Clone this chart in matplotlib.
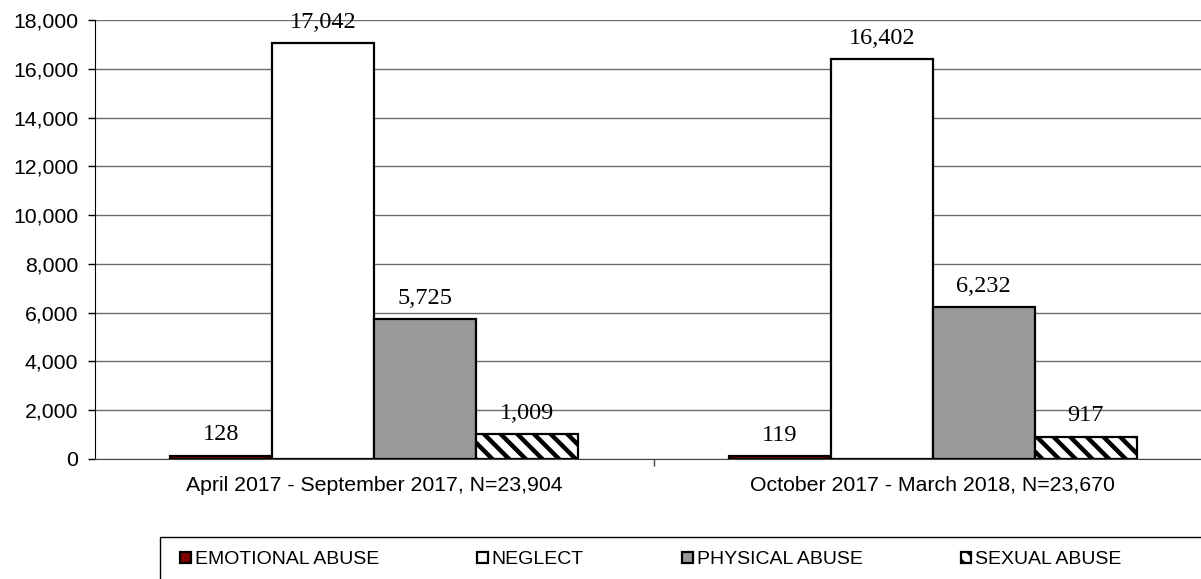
import numpy as np
import matplotlib
matplotlib.use("Agg")
import matplotlib.pyplot as plt
from matplotlib.patches import Rectangle

periods = ['April 2017 - September 2017, N=23,904', 'October 2017 - March 2018, N=23,670']
categories = ['EMOTIONAL ABUSE', 'NEGLECT', 'PHYSICAL ABUSE', 'SEXUAL ABUSE']
emotional = [128, 119]
neglect = [17042, 16402]
physical = [5725, 6232]
sexual = [1009, 917]
values = [emotional, neglect, physical, sexual]

colors = ['#800000', 'white', '#999999', 'white']
hatches = [None, None, None, '\\\\']

plt.rcParams['font.family'] = ['Liberation Sans', 'DejaVu Sans']
plt.rcParams['hatch.linewidth'] = 3.2
plt.rcParams['hatch.color'] = 'black'

fig = plt.figure(figsize=(12.01, 5.79), dpi=100)
ax = fig.add_axes([95/1201, 1-459/579, (1212-95)/1201, (459-20)/579])

x = np.arange(len(periods))
w = 0.1825
for i, (cat, vals) in enumerate(zip(categories, values)):
    pos = x + (i - 1.5)*w
    bars = ax.bar(pos, vals, w, color=colors[i], edgecolor='black', linewidth=1.6,
                  hatch=hatches[i], label=cat, zorder=3)
    for b, v in zip(bars, vals):
        ax.annotate(f'{v:,}', (b.get_x()+b.get_width()/2, v), xytext=(0, 7.5),
                    textcoords='offset points', ha='center', va='bottom',
                    fontsize=17.5, family=['Liberation Serif'], annotation_clip=False)

ax.set_xlim(-0.5, 1.5)
ax.set_ylim(0, 18000)
ax.set_yticks(range(0, 18001, 2000))
ax.yaxis.set_major_formatter(matplotlib.ticker.FuncFormatter(lambda v, p: f'{int(v):,}'))
ax.tick_params(axis='y', direction='out', length=5, width=1, labelsize=15.3, pad=7, color='black')
ax.yaxis.grid(True, color='#6e6e6e', linewidth=1, zorder=0)

ax.set_xticks([0.5])
ax.set_xticklabels([''])
ax.set_xticks(x, minor=True)
ax.set_xticklabels(periods, minor=True)
ax.tick_params(axis='x', which='major', direction='out', length=5, width=1, color='#444444')
ax.tick_params(axis='x', which='minor', length=0, labelsize=15.3, pad=12)

for s in ['top', 'right']:
    ax.spines[s].set_visible(False)
ax.spines['left'].set_color('black')
ax.spines['bottom'].set_color('#444444')
ax.set_axisbelow(True)

# legend box (extends past figure edge)
fig.patches.append(Rectangle((160/1201, -0.2), 1.2, 0.2 + (579-537)/579, transform=fig.transFigure,
                             fill=False, edgecolor='black', linewidth=1))
fig.legend(loc='center left', bbox_to_anchor=(180/1201, 1-560/579), ncol=4, frameon=False,
           fontsize=14, handlelength=0.55, handleheight=0.55, handletextpad=0.2,
           columnspacing=5.05, borderpad=0, borderaxespad=0)

fig.savefig('out.png', dpi=100)
